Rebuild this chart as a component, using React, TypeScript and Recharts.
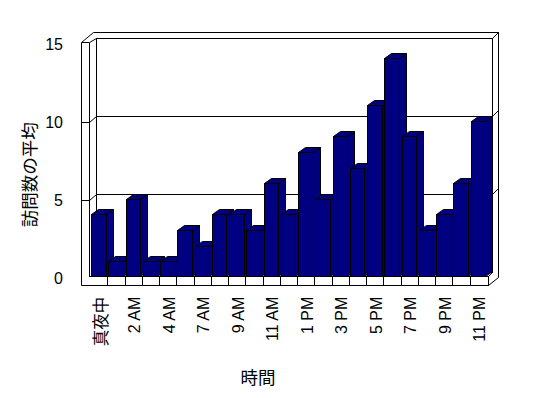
import React from 'react';
import { BarChart, Bar, XAxis, YAxis, CartesianGrid, Label } from 'recharts';

const hours = ['真夜中', '1 AM', '2 AM', '3 AM', '4 AM', '5 AM', '7 AM', '8 AM', '9 AM', '10 AM', '11 AM', '正午', '1 PM', '2 PM', '3 PM', '4 PM', '5 PM', '6 PM', '7 PM', '8 PM', '9 PM', '10 PM', '11 PM'];
const visits = [4, 1, 5, 1, 1, 3, 2, 4, 4, 3, 6, 4, 8, 5, 9, 7, 11, 14, 9, 3, 4, 6, 10];
const yTicks = [0, 5, 10, 15];
const yTitle = '訪問数の平均';
const xTitle = '時間';

const data = hours.map((h, i) => ({ hour: h, visits: visits[i] }));

const W = 548;
const H = 398;
const PL = 90;
const PR = 487;
const PT = 42.7;
const PB = 276.7;
const FONT = "'Liberation Sans', Arial, 'Noto Sans CJK JP', sans-serif";
const CJK = "'Noto Sans CJK JP', sans-serif";

// frame constants (pixel-aligned)
const OL = 81.5;
const IL = 89.5;
const BLW = 96.5;
const BRW = 492.5;
const OR = 498.5;
const TOP_OUT = 32.5;
const TOP_IN = 38.5;
const FLOOR_TOP = 276.5;
const FLOOR_BOT = 285.5;
const FR = 488.5;

const Bar3D = (props: any) => {
  const { x, y, width, height } = props;
  if (height == null || height <= 0) return null;
  const dx = 7;
  const dy = -5;
  const x0 = Math.round(x) + 0.5;
  const x1 = Math.round(x + width) + 0.5;
  const y0 = Math.round(y) + 0.5;
  const y1 = Math.round(y + height) - 0.5;
  const common = { fill: '#000080', stroke: '#000', strokeWidth: 1 };
  return (
    <g>
      <polygon points={`${x1},${y0} ${x1 + dx},${y0 + dy} ${x1 + dx},${y1 + dy} ${x1},${y1}`} {...common} />
      <polygon points={`${x0},${y0} ${x0 + dx},${y0 + dy} ${x1 + dx},${y0 + dy} ${x1},${y0}`} {...common} />
      <rect x={x0} y={y0} width={x1 - x0} height={y1 - y0} {...common} shapeRendering="crispEdges" />
    </g>
  );
};

const gridLine = (p: any) => {
  const y = p.y1;
  const bx0 = p.x1 + 6.5;
  const bx1 = p.x2 + 5.5;
  const yb = Math.round(y - 4.4) + 0.5;
  const yf = Math.round(y + 1.6) + 0.5;
  return (
    <g key={`g-${p.index}-${y}`}>
      <line x1={bx0} x2={bx1} y1={yb} y2={yb} stroke="#000" strokeWidth={1} shapeRendering="crispEdges" />
      {y < 270 && y > 50 ? (
        <path d={`M${OL},${yf}L${IL},${yf}L${bx0},${yb}`} stroke="#000" fill="none" strokeWidth={1} />
      ) : null}
      {y < 270 ? <path d={`M${bx1},${yb}L${bx1 + 6},${yb - 6}`} stroke="#000" fill="none" strokeWidth={1} /> : null}
    </g>
  );
};

const XTick = (props: any) => {
  const { x, y, payload } = props;
  const v = String(payload.value);
  const isCjk = /[^\x00-\x7f]/.test(v);
  const tx = x + 1.5;
  return (
    <text
      x={tx}
      y={y}
      transform={`rotate(-90 ${tx} ${y})`}
      textAnchor="end"
      dominantBaseline="central"
      fontSize={isCjk ? 16.5 : 16}
      fontFamily={isCjk ? CJK : FONT}
      fill="#000000"
      stroke="none"
    >
      {v}
    </text>
  );
};

const YTitle = (props: any) => {
  const vb = props.viewBox || { x: 0, y: PT, width: PL, height: PB - PT };
  const cx = vb.x + 29;
  const cy = vb.y + vb.height / 2 + 15;
  return (
    <text
      x={cx}
      y={cy}
      transform={`rotate(-90 ${cx} ${cy})`}
      textAnchor="middle"
      dominantBaseline="central"
      fontSize={17.5}
      fontFamily={CJK}
      fill="#000"
    >
      {yTitle}
    </text>
  );
};

const XTitle = (props: any) => {
  const vb = props.viewBox || { x: PL, y: PB, width: PR - PL, height: H - PB };
  const cx = vb.x + 168;
  const cy = vb.y + 100;
  return (
    <text x={cx} y={cy} textAnchor="middle" dominantBaseline="central" fontSize={17.5} fontFamily={CJK} fill="#000">
      {xTitle}
    </text>
  );
};

const Frame = () => {
  const n = hours.length;
  const band = (PR - PL) / n;
  const ticks = [];
  for (let k = 1; k < n; k++) {
    const tx = Math.round(PL + band * k) + 0.5;
    ticks.push(<line key={k} x1={tx} x2={tx} y1={FLOOR_TOP} y2={FLOOR_BOT} stroke="#000" shapeRendering="crispEdges" />);
  }
  const s = { stroke: '#000', strokeWidth: 1, fill: 'none' };
  return (
    <svg width={W} height={H} style={{ position: 'absolute', left: 0, top: 0 }}>
      <path
        d={`M${OL},${FLOOR_BOT}L${OL},42.5L93.5,${TOP_OUT}L${OR},${TOP_OUT}L${OR},277.5L${FR},${FLOOR_BOT}Z`}
        stroke="#000"
        fill="#fff"
      />
      <path d={`M${IL},42.5L${IL},${FLOOR_TOP}`} {...s} shapeRendering="crispEdges" />
      <path d={`M${OL},42.5L${IL},42.5L${BLW},${TOP_IN}`} {...s} />
      <path d={`M${BLW},272.5L${BLW},${TOP_IN}L${BRW},${TOP_IN}L${BRW},272.5`} {...s} shapeRendering="crispEdges" />
      <path d={`M${BRW},${TOP_IN}L${OR},${TOP_OUT}`} {...s} />
      <path d={`M${IL},${FLOOR_TOP}L${FR},${FLOOR_TOP}L${FR},${FLOOR_BOT}`} {...s} shapeRendering="crispEdges" />
      <path d={`M${FR},${FLOOR_TOP}L${BRW},272.5`} {...s} />
      {ticks}
    </svg>
  );
};

export default function App() {
  return (
    <div style={{ position: 'absolute', left: 0, top: 0, width: W, height: H, background: '#fff', overflow: 'hidden' }}>
      <Frame />
      <div style={{ position: 'absolute', left: 0, top: 0 }}>
        <BarChart width={W} height={H} data={data} margin={{ top: PT, right: W - PR, bottom: 0, left: 0 }}>
          <CartesianGrid vertical={false} horizontal={gridLine} />
          <XAxis
            dataKey="hour"
            interval={1}
            height={H - PB}
            tickLine={false}
            axisLine={false}
            tickSize={0}
            tickMargin={20}
            tick={<XTick />}
          >
            <Label content={<XTitle />} />
          </XAxis>
          <YAxis
            domain={[0, 15]}
            ticks={yTicks}
            width={PL}
            axisLine={false}
            tickLine={false}
            tickSize={6}
            tickMargin={21}
            tick={{ fontSize: 16, fill: '#000', fontFamily: FONT, dy: 1.5 }}
          >
            <Label content={<YTitle />} />
          </YAxis>
          <Bar dataKey="visits" barSize={14.5} isAnimationActive={false} shape={<Bar3D />} />
        </BarChart>
      </div>
    </div>
  );
}
